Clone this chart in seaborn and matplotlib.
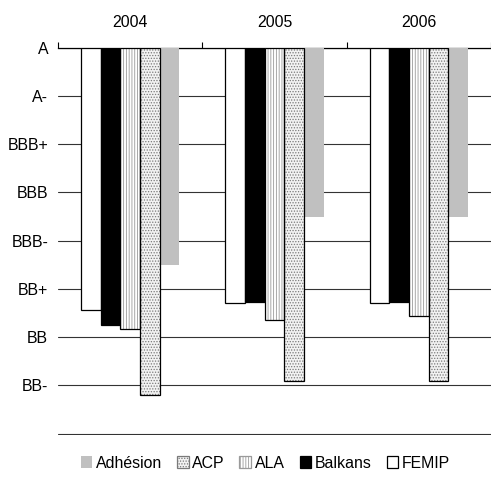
import matplotlib
matplotlib.use("Agg")
import matplotlib.pyplot as plt
import seaborn as sns
import pandas as pd
from matplotlib.patches import Rectangle, Patch

# Average rating, expressed as notches below "A", per programme and year
years = ["2004", "2005", "2006"]
series = ["FEMIP", "Balkans", "ALA", "ACP", "Adhésion"]
femip = [5.43, 5.29, 5.29]
balkans = [5.75, 5.28, 5.28]
ala = [5.83, 5.64, 5.56]
acp = [7.20, 6.91, 6.91]
adhesion = [4.50, 3.50, 3.50]
rating_labels = ["A", "A-", "BBB+", "BBB", "BBB-", "BB+", "BB", "BB-", ""]

values = {"FEMIP": femip, "Balkans": balkans, "ALA": ala, "ACP": acp, "Adhésion": adhesion}
df = pd.DataFrame(
    [(y, s, values[s][i]) for s in series for i, y in enumerate(years)],
    columns=["year", "series", "notches"],
)

sns.set_theme(style="white")
plt.rcParams["font.family"] = ["Liberation Sans", "DejaVu Sans"]
plt.rcParams["hatch.linewidth"] = 0.6
plt.rcParams["text.color"] = "black"
plt.rcParams["xtick.color"] = "black"
plt.rcParams["ytick.color"] = "black"

FS = 11.4

styles = {
    "FEMIP":    dict(fc="white",   hatch=None,      hc=None,      ec="black"),
    "Balkans":  dict(fc="black",   hatch=None,      hc=None,      ec="black"),
    "ALA":      dict(fc="white",   hatch="||||||",  hc="#9a9a9a", ec="black"),
    "ACP":      dict(fc="#f2f2f2", hatch="......",  hc="#7a7a7a", ec="black"),
    "Adhésion": dict(fc="#c0c0c0", hatch=None,      hc=None,      ec=None),
}

fig, ax = plt.subplots(figsize=(4.91, 4.78), dpi=100)
fig.subplots_adjust(left=0.118, right=1.0, top=0.9, bottom=0.09)

sns.barplot(
    data=df, x="year", y="notches", hue="series", order=years, hue_order=series,
    palette={s: styles[s]["fc"] for s in series}, saturation=1,
    width=0.68, errorbar=None, legend=False, ax=ax, zorder=3,
)


def style_bar(p, st):
    p.set_facecolor(st["fc"])
    if st["hatch"]:
        p.set_hatch(st["hatch"])
        p.set_edgecolor(st["hc"])
        p.set_linewidth(0)
        ax.add_patch(Rectangle(p.get_xy(), p.get_width(), p.get_height(),
                               fill=False, edgecolor=st["ec"], linewidth=0.9, zorder=4))
    elif st["ec"]:
        p.set_edgecolor(st["ec"])
        p.set_linewidth(0.9)
    else:
        p.set_edgecolor("none")
        p.set_linewidth(0)


for s, cont in zip(series, ax.containers):
    for p in cont.patches:
        style_bar(p, styles[s])

# rating scale runs downward from the top line
ax.set_ylim(8.03, 0)
ax.set_yticks(range(len(rating_labels)))
ax.set_yticklabels(rating_labels, fontsize=FS, color="black")
ax.yaxis.grid(True, color="#333333", linewidth=0.8, zorder=0)
ax.xaxis.grid(False)
ax.tick_params(axis="y", length=0, pad=7)

# year labels along the top, with separator ticks between groups
ax.xaxis.tick_top()
ax.set_xlim(-0.5, len(years) - 0.5)
ax.tick_params(axis="x", which="major", length=0, pad=13, labelsize=FS, labelcolor="black")
ax.set_xticks([i - 0.5 for i in range(len(years) + 1)], minor=True)
ax.tick_params(axis="x", which="minor", length=4, width=0.8, color="black", direction="out", top=True)
ax.set_xlabel("")
ax.set_ylabel("")

for side in ["left", "right", "bottom"]:
    ax.spines[side].set_visible(False)
ax.spines["top"].set_color("black")
ax.spines["top"].set_linewidth(0.9)

handles = []
for s in reversed(series):
    st = styles[s]
    if st["hatch"]:
        h = Patch(facecolor=st["fc"], hatch=st["hatch"], edgecolor=st["hc"], linewidth=0.9)
    else:
        h = Patch(facecolor=st["fc"], edgecolor=st["ec"] or "none", linewidth=0.9 if st["ec"] else 0)
    handles.append(h)

leg = fig.legend(handles, list(reversed(series)), loc="center", bbox_to_anchor=(0.54, 0.031),
                 ncol=5, frameon=False, fontsize=FS, handlelength=0.75, handleheight=0.75,
                 handletextpad=0.2, columnspacing=0.95, borderaxespad=0)
for t in leg.get_texts():
    t.set_color("black")

fig.savefig("out.png", dpi=100)
